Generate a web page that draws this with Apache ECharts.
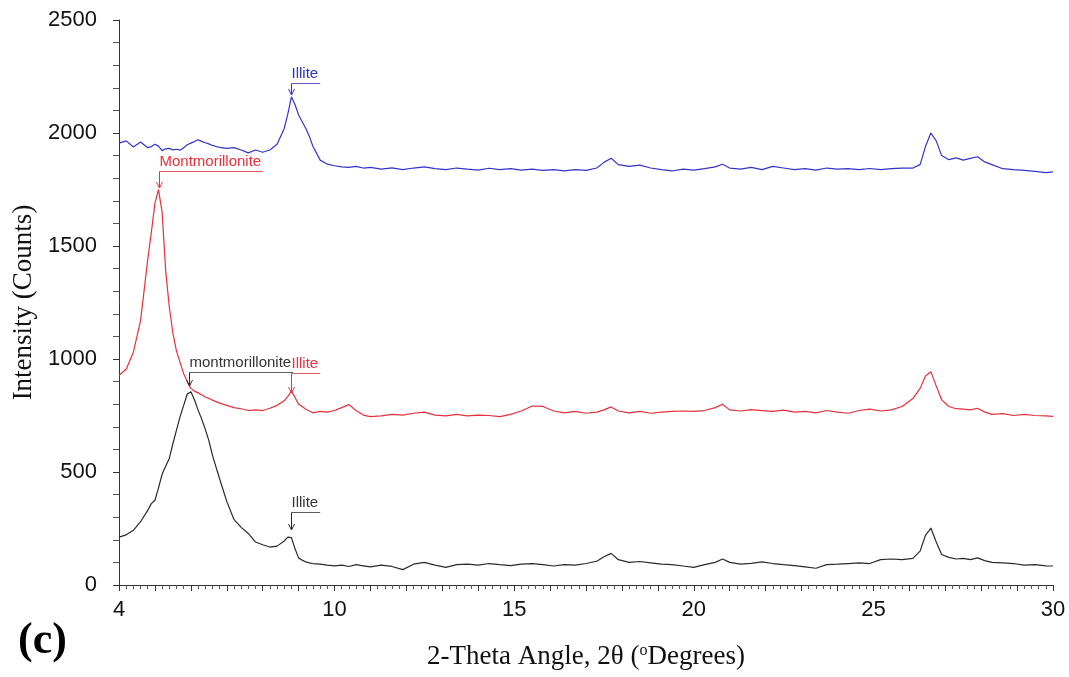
<!DOCTYPE html>
<html>
<head>
<meta charset="utf-8">
<script src="https://cdn.jsdelivr.net/npm/echarts@6/dist/echarts.min.js"></script>
<style>
html,body{margin:0;padding:0;background:#fff;}
#chart{width:1069px;height:677px;}
</style>
</head>
<body>
<div id="chart"></div>
<script>
// 2-theta angles (degrees)
const angle = [
  4.0, 4.2, 4.4, 4.6, 4.8, 4.9, 5.0, 5.1, 5.2, 5.3,
  5.4, 5.5, 5.6, 5.7, 5.8, 5.9, 6.0, 6.1, 6.2, 6.3,
  6.4, 6.5, 6.6, 6.8, 7.0, 7.2, 7.4, 7.6, 7.8, 8.0,
  8.2, 8.4, 8.6, 8.7, 8.8, 8.9, 9.0, 9.1, 9.2, 9.3,
  9.4, 9.6, 9.8, 10.0, 10.2, 10.4, 10.6, 10.8, 11.0, 11.3,
  11.6, 11.9, 12.2, 12.5, 12.8, 13.1, 13.4, 13.7, 14.0, 14.3,
  14.6, 14.9, 15.2, 15.5, 15.8, 16.1, 16.4, 16.7, 17.0, 17.3,
  17.5, 17.7, 17.9, 18.2, 18.5, 18.8, 19.1, 19.4, 19.7, 20.0,
  20.3, 20.6, 20.8, 21.0, 21.3, 21.6, 21.9, 22.2, 22.5, 22.8,
  23.1, 23.4, 23.7, 24.0, 24.3, 24.6, 24.9, 25.2, 25.5, 25.8,
  26.1, 26.3, 26.45, 26.6, 26.75, 26.9, 27.1, 27.3, 27.5, 27.7,
  27.9, 28.1, 28.3, 28.6, 28.9, 29.2, 29.5, 29.8, 30.0
];
// top (blue) trace
const blueCounts = [
  1955, 1965, 1938, 1960, 1935, 1940, 1950, 1942, 1922, 1930,
  1932, 1925, 1928, 1924, 1935, 1948, 1955, 1962, 1970, 1963,
  1957, 1952, 1945, 1936, 1932, 1935, 1925, 1912, 1925, 1915,
  1925, 1950, 2020, 2085, 2160, 2125, 2080, 2050, 2020, 1985,
  1940, 1880, 1862, 1855, 1850, 1848, 1852, 1845, 1848, 1840,
  1846, 1838, 1845, 1850, 1842, 1838, 1845, 1840, 1836, 1844,
  1838, 1842, 1836, 1840, 1835, 1838, 1832, 1838, 1835, 1845,
  1870, 1888, 1860, 1852, 1858, 1845, 1838, 1832, 1840, 1836,
  1842, 1850, 1862, 1845, 1840, 1848, 1838, 1852, 1845, 1838,
  1842, 1836, 1845, 1840, 1842, 1838, 1843, 1838, 1842, 1845,
  1845, 1860, 1940, 2000, 1965, 1900, 1882, 1890, 1880, 1888,
  1895, 1872, 1860, 1842, 1838, 1835, 1830, 1825, 1828
];
// middle (red) trace
const redCounts = [
  928, 955, 1030, 1170, 1440, 1560, 1690, 1750, 1650, 1390,
  1230, 1115, 1035, 985, 935, 900, 870, 858, 850, 842,
  832, 826, 818, 805, 795, 785, 780, 772, 775, 772,
  782, 795, 815, 835, 858, 830, 800, 790, 778, 770,
  762, 768, 765, 772, 785, 798, 772, 752, 745, 748,
  755, 752, 760, 765, 752, 748, 755, 748, 752, 750,
  745, 755, 770, 792, 790, 770, 762, 768, 760, 765,
  775, 788, 770, 762, 768, 760, 765, 768, 770, 768,
  772, 785, 800, 775, 770, 776, 772, 768, 774, 765,
  768, 762, 772, 765, 760, 772, 778, 770, 775, 790,
  825, 870, 925, 944, 880, 820, 790, 780, 778, 775,
  782, 765, 755, 758, 750, 755, 750, 748, 746
];
// bottom (black) trace
const blackCounts = [
  212, 222, 242, 280, 330, 360, 375, 430, 490, 525,
  560, 625, 685, 745, 795, 845, 855, 820, 775, 735,
  690, 640, 575, 470, 370, 290, 255, 228, 190, 178,
  168, 172, 195, 212, 210, 160, 120, 110, 102, 98,
  95, 92, 88, 85, 88, 82, 90, 85, 80, 88,
  82, 68, 92, 100, 88, 78, 90, 92, 88, 95,
  90, 86, 92, 95, 90, 84, 90, 88, 95, 105,
  125, 140, 112, 100, 104, 98, 92, 90, 84, 78,
  90, 100, 115, 100, 92, 96, 102, 95, 90, 86,
  80, 74, 90, 92, 95, 98, 95, 112, 115, 112,
  118, 150, 220, 252, 190, 135, 122, 115, 118, 112,
  120, 108, 100, 98, 95, 88, 90, 85, 84
];
const xTickLabels = [4, 10, 15, 20, 25, 30];
// peak annotations
const annText = ['Illite', 'Montmorillonite', 'montmorillonite', 'Illite', 'Illite'];
const annTrace = ['blue', 'red', 'black', 'red', 'black'];
const annX = [8.8, 5.1, 5.95, 8.8, 8.8];
const annPeak = [2168, 1757, 880, 850, 243];
const annTop = [2221, 1832, 942, 938, 323];

const COLORS = { blue: '#3434c8', red: '#e8303c', black: '#2a2a2a' };
const TEXTCOL = { blue: '#2f2fc0', red: '#e8303c', black: '#333333' };
const SANS = '"Liberation Sans", Arial, sans-serif';
const NARROW = '"Liberation Sans Narrow", "Arial Narrow", "Liberation Sans", Arial, sans-serif';
const SERIF = '"Liberation Serif", "Times New Roman", serif';

const chart = echarts.init(document.getElementById('chart'), null, { renderer: 'canvas' });

function pairs(arr) { return angle.map((a, i) => [a, arr[i]]); }

const axisCol = '#333';
chart.setOption({
  animation: false,
  backgroundColor: '#fff',
  grid: { left: 119, right: 16, top: 20, bottom: 92, containLabel: false },
  xAxis: {
    type: 'value', min: 4, max: 30, interval: 1,
    name: '2-Theta Angle, 2θ ({sup|o}Degrees)',
    nameLocation: 'middle', nameGap: 58,
    nameTextStyle: {
      fontFamily: SERIF, fontSize: 27, color: '#111',
      rich: { sup: { fontFamily: SERIF, fontSize: 16, verticalAlign: 'top', color: '#111', padding: [0, 0, 10, 0] } }
    },
    axisLine: { show: true, lineStyle: { color: axisCol, width: 1 } },
    axisTick: { show: true, length: 6, lineStyle: { color: axisCol } },
    minorTick: { show: true, splitNumber: 5, length: 4, lineStyle: { color: '#555' } },
    splitLine: { show: false },
    axisLabel: {
      interval: 0, margin: 14, fontFamily: NARROW, fontSize: 22, color: '#111',
      formatter: v => (xTickLabels.indexOf(Math.round(v)) >= 0 && Math.abs(v - Math.round(v)) < 1e-6) ? String(Math.round(v)) : ''
    }
  },
  yAxis: {
    type: 'value', min: 0, max: 2500, interval: 500,
    name: 'Intensity (Counts)', nameLocation: 'middle', nameGap: 80, nameRotate: 90,
    nameTextStyle: { fontFamily: SERIF, fontSize: 27, color: '#111' },
    axisLine: { show: true, lineStyle: { color: axisCol, width: 1 } },
    axisTick: { show: true, length: 6, lineStyle: { color: axisCol } },
    minorTick: { show: true, splitNumber: 5, length: 6, lineStyle: { color: '#555' } },
    splitLine: { show: false },
    axisLabel: { margin: 22, fontFamily: NARROW, fontSize: 22, color: '#111', formatter: v => String(v) }
  },
  series: [
    { type: 'line', name: 'blue', data: pairs(blueCounts), showSymbol: false, symbol: 'none',
      lineStyle: { color: COLORS.blue, width: 1.2 }, z: 3 },
    { type: 'line', name: 'red', data: pairs(redCounts), showSymbol: false, symbol: 'none',
      lineStyle: { color: COLORS.red, width: 1.2 }, z: 3 },
    { type: 'line', name: 'black', data: pairs(blackCounts), showSymbol: false, symbol: 'none',
      lineStyle: { color: COLORS.black, width: 1.2 }, z: 3 }
  ]
});

const mctx = document.createElement('canvas').getContext('2d');
const annFontSize = 15;
mctx.font = annFontSize + 'px ' + SANS;

const graphics = [];
for (let i = 0; i < annText.length; i++) {
  const top = chart.convertToPixel({ gridIndex: 0 }, [annX[i], annTop[i]]);
  const tip = chart.convertToPixel({ gridIndex: 0 }, [annX[i], annPeak[i]]);
  const col = TEXTCOL[annTrace[i]];
  const lcol = COLORS[annTrace[i]];
  const w = mctx.measureText(annText[i]).width;
  const x = Math.round(top[0]) + 0.5;
  const yT = Math.round(top[1]) + 0.5;
  const yP = Math.round(tip[1]);
  graphics.push({
    type: 'text', x: x, y: yT - 2, z: 10,
    style: { text: annText[i], fill: col, fontSize: annFontSize, fontFamily: SANS, align: 'left', verticalAlign: 'bottom' }
  });
  graphics.push({
    type: 'line', z: 10, shape: { x1: x, y1: yT, x2: x + w + 2, y2: yT },
    style: { stroke: col, lineWidth: 1, opacity: 0.8 }
  });
  graphics.push({
    type: 'line', z: 10, shape: { x1: x, y1: yT, x2: x, y2: yP },
    style: { stroke: lcol, lineWidth: 1 }
  });
  graphics.push({
    type: 'polyline', z: 10, shape: { points: [[x - 3, yP - 6], [x, yP], [x + 3, yP - 6]] },
    style: { stroke: lcol, lineWidth: 1, fill: null }
  });
}
graphics.push({
  type: 'text', left: 18, top: 620, z: 10,
  style: { text: '(c)', fill: '#000', fontSize: 44, fontWeight: 'bold', fontFamily: SERIF }
});
chart.setOption({ graphic: graphics });
</script>
</body>
</html>
